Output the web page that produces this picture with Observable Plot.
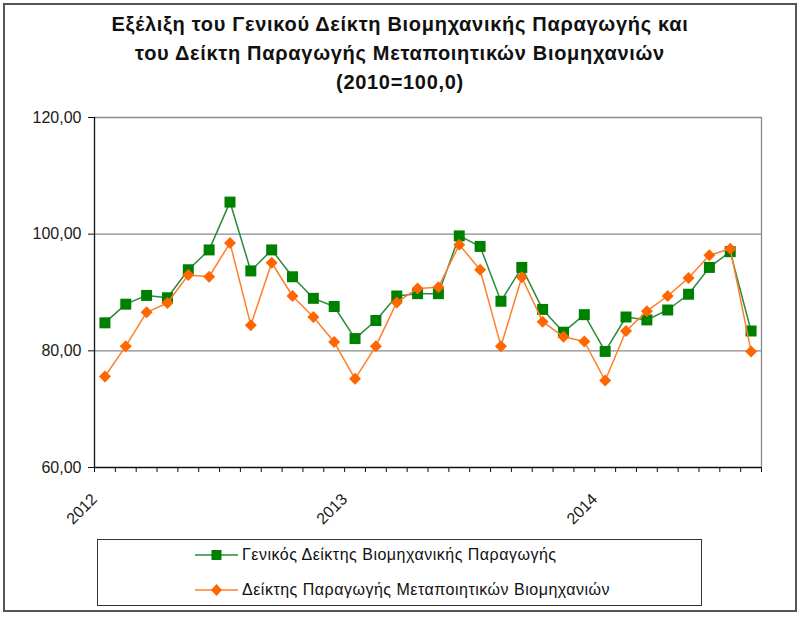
<!DOCTYPE html>
<html>
<head>
<meta charset="utf-8">
<script src="https://cdn.jsdelivr.net/npm/d3@7"></script>
<script src="https://cdn.jsdelivr.net/npm/@observablehq/plot@0.6"></script>
<style>
  body { margin: 0; background: #fff; font-family: "Liberation Sans", Arial, sans-serif; }
  #wrap { position: relative; width: 800px; height: 617px; overflow: hidden; }
  #frame { position: absolute; left: 3px; top: 3px; width: 790px; height: 605px; border: 2px solid #555; }
  #title { position: absolute; left: 0; top: 10px; width: 800px; text-align: center; font-weight: bold; font-size: 20px; letter-spacing: 0.7px; line-height: 29px; color: #111; }
  #chart { position: absolute; left: 0; top: 100px; }
  #chart svg text { font-size: 16px; fill: #1a1a1a; }
  #legend { position: absolute; left: 97px; top: 539px; width: 605px; height: 67px; border: 1px solid #333; box-sizing: border-box; }
  .row { position: absolute; left: 97px; height: 20px; display: flex; align-items: center; font-size: 16px; letter-spacing: 0.5px; color: #111; }
  .row svg { margin-right: 4px; }
</style>
</head>
<body>
<div id="wrap">
  <div id="frame"></div>
  <div id="title">Εξέλιξη του Γενικού Δείκτη Βιομηχανικής Παραγωγής και<br>του Δείκτη Παραγωγής Μεταποιητικών Βιομηχανιών<br>(2010=100,0)</div>
  <div id="chart"></div>
  <div id="legend"></div>
</div>
<script>
// Months Jan 2012 .. Aug 2014
const months = ["2012-01","2012-02","2012-03","2012-04","2012-05","2012-06","2012-07","2012-08","2012-09","2012-10","2012-11","2012-12",
                "2013-01","2013-02","2013-03","2013-04","2013-05","2013-06","2013-07","2013-08","2013-09","2013-10","2013-11","2013-12",
                "2014-01","2014-02","2014-03","2014-04","2014-05","2014-06","2014-07","2014-08"];
const generalIndex = [84.8, 88.0, 89.5, 89.1, 93.9, 97.3, 105.5, 93.7, 97.3, 92.7, 89.0, 87.6,
                      82.1, 85.2, 89.4, 89.8, 89.8, 99.7, 97.9, 88.5, 94.3, 87.1, 83.2, 86.2,
                      79.9, 85.8, 85.3, 87.0, 89.7, 94.3, 97.0, 83.4];
const manufIndex = [75.6, 80.8, 86.6, 88.2, 93.0, 92.7, 98.5, 84.4, 95.1, 89.4, 85.8, 81.5,
                    75.2, 80.8, 88.3, 90.7, 90.9, 98.2, 93.9, 80.8, 92.6, 85.0, 82.4, 81.6,
                    74.9, 83.4, 86.8, 89.4, 92.5, 96.4, 97.5, 79.9];
const seriesNames = ["Γενικός Δείκτης Βιομηχανικής Παραγωγής", "Δείκτης Παραγωγής Μεταποιητικών Βιομηχανιών"];
const yTicks = [60, 80, 100, 120];
const gridValues = [80, 100, 120];

const GREEN = "#008000", GREEN_LINE = "#2b8a3c";
const ORANGE = "#ff6600", ORANGE_LINE = "#ff7f2a";

const gData = months.map((m, i) => ({i, m, v: generalIndex[i]}));
const oData = months.map((m, i) => ({i, m, v: manufIndex[i]}));
// category boundaries (ticks between categories)
const bounds = d3.range(months.length + 1).map(k => k - 0.5);
const yearLabel = b => {
  const idx = b + 0.5;
  const m = months[idx];
  return m && m.endsWith("-01") ? m.slice(0, 4) : "";
};

const plot = Plot.plot({
  width: 800,
  height: 440,
  marginLeft: 94,
  marginRight: 39,
  marginTop: 17,
  marginBottom: 73,
  style: {fontFamily: "'Liberation Sans', Arial, sans-serif", fontSize: "16px", color: "#111", background: "transparent"},
  x: {domain: [-0.5, months.length - 0.5]},
  y: {domain: [60, 120]},
  marks: [
    Plot.ruleY(gridValues, {stroke: "#8a8a8a", strokeWidth: 1.3}),
    Plot.ruleX([months.length - 0.5], {stroke: "#8a8a8a", strokeWidth: 1.3}),
    Plot.axisY({ticks: yTicks, tickFormat: d => d.toFixed(2).replace(".", ","), tickSize: 6, tickPadding: 7, fontSize: 16, label: null, stroke: "#111"}),
    Plot.axisX({ticks: bounds, tickFormat: yearLabel, tickSize: 5, tickPadding: 24, tickRotate: -45, fontSize: 16, label: null, stroke: "#111"}),
    Plot.ruleX([-0.5], {stroke: "#111", strokeWidth: 1.3}),
    Plot.ruleY([60], {stroke: "#111", strokeWidth: 1.3}),
    Plot.line(gData, {x: "i", y: "v", stroke: GREEN_LINE, strokeWidth: 1.5}),
    Plot.dot(gData, {x: "i", y: "v", symbol: "square", r: 6.2, fill: GREEN, stroke: "none"}),
    Plot.line(oData, {x: "i", y: "v", stroke: ORANGE_LINE, strokeWidth: 1.5}),
    Plot.dot(oData, {x: "i", y: "v", symbol: "diamond2", r: 5.4, fill: ORANGE, stroke: "none"})
  ]
});
document.getElementById("chart").appendChild(plot);

// Legend
const wrap = document.getElementById("wrap");
const legendItems = [
  {name: seriesNames[0], line: GREEN_LINE, fill: GREEN, shape: "square", top: 545},
  {name: seriesNames[1], line: ORANGE_LINE, fill: ORANGE, shape: "diamond", top: 580}
];
legendItems.forEach(it => {
  const row = document.createElement("div");
  row.className = "row";
  row.style.left = "195px";
  row.style.top = it.top + "px";
  const marker = it.shape === "square"
    ? `<rect x="16.5" y="5" width="10" height="10" fill="${it.fill}"/>`
    : `<path d="M21.5,4L27,10L21.5,16L16,10Z" fill="${it.fill}"/>`;
  row.innerHTML = `<svg width="43" height="20"><line x1="0" x2="43" y1="10" y2="10" stroke="${it.line}" stroke-width="1.6"/>${marker}</svg><span>${it.name}</span>`;
  wrap.appendChild(row);
});
</script>
</body>
</html>
